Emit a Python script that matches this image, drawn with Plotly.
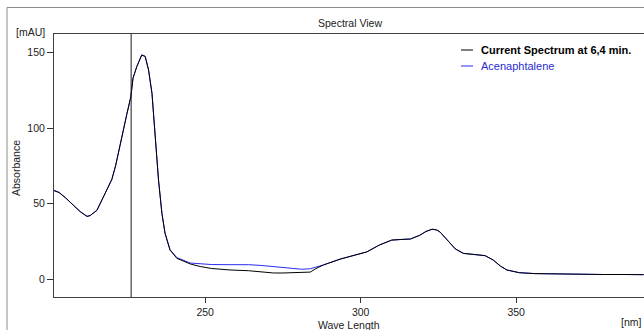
import plotly.graph_objects as go

# ---- data ----
wavelength = [201.4, 203, 205, 207, 209.8, 212, 213, 215.2, 217.8, 220, 221.2, 222.7,
              223.7, 224.8, 226.1, 226.8, 228, 229.6, 230.7, 231.8, 232.9, 233.9, 235,
              236.1, 237.1, 238.7, 240.9, 245.2, 248.4, 252, 258, 264, 268, 272, 275,
              281, 283.8, 285.5, 288, 293.4, 298, 302, 306, 310, 313, 316, 319, 321,
              323, 324.5, 325.6, 327.8, 330.4, 333, 335, 338.4, 340, 342.6, 345, 347,
              351, 356, 361, 366, 372, 378, 385, 391]

current_spectrum = [58.5, 57.3, 54, 50, 44.6, 41.5, 42, 45.5, 56.5, 66, 75, 90,
                    100, 109, 120.7, 133, 140.6, 148.3, 147.5, 138.5, 123, 96.5, 65.6,
                    43.5, 30.3, 19.2, 13.7, 10.0, 8.3, 7.0, 6.0, 5.5, 4.6, 4.0, 4.0,
                    4.2, 4.6, 6.8, 9.3, 13.2, 15.5, 18, 22.5, 25.8, 26.2, 26.5, 29, 31.5,
                    33, 32.5, 31, 25.8, 20, 17, 16.6, 15.9, 15.5, 12.6, 8.5, 6,
                    4.2, 3.6, 3.4, 3.3, 3.1, 3.0, 3.0, 2.9]

acenaphtalene = [58.8, 57.5, 54, 50, 44.8, 41.5, 42, 45.5, 56.5, 66, 75, 90,
                 100, 109, 120.7, 133, 140.6, 148.5, 147.5, 138.5, 123, 96.5, 65.6,
                 43.5, 30.5, 19.5, 14.2, 10.6, 9.9, 9.6, 9.5, 9.5, 9.0, 8.2, 7.6,
                 6.5, 6.8, 7.8, 9.3, 13.2, 15.5, 18, 22.5, 25.8, 26.2, 26.5, 29, 31.5,
                 33, 32.5, 31, 25.8, 20, 17, 16.6, 15.9, 15.5, 12.6, 8.5, 6,
                 4.2, 3.6, 3.4, 3.3, 3.1, 3.0, 3.0, 2.9]

series_names = ["Current Spectrum at 6,4 min.", "Acenaphtalene"]
series_colors = ["#000000", "#2a2af0"]
cursor_wl = 226.2

x_ticks = [250, 300, 350]
y_ticks = [0, 50, 100, 150]
x_range = [201.4, 391.1]
y_range = [-11.9, 162.3]

FONT = "Liberation Sans"

fig = go.Figure()
fig.add_trace(go.Scatter(x=wavelength, y=acenaphtalene, mode="lines",
                         name=series_names[1],
                         line=dict(color=series_colors[1], width=1)))
fig.add_trace(go.Scatter(x=wavelength, y=current_spectrum, mode="lines",
                         name=series_names[0],
                         line=dict(color=series_colors[0], width=1)))

L, R, T, B = 54, 0, 34, 33
W, H = 644, 330
pw, ph = W - L - R, H - T - B


def px(xp):
    return (xp - L) / pw


def py(yp):
    return (H - B - yp) / ph


shapes = [
    # outer panel frame
    dict(type="rect", xref="paper", yref="paper", x0=px(7), x1=px(660),
         y0=py(345), y1=py(7.5), line=dict(color="#8c8c8c", width=1), layer="below"),
    # cursor line
    dict(type="line", xref="x", yref="paper", x0=cursor_wl, x1=cursor_wl,
         y0=0, y1=1, line=dict(color="#1a1a1a", width=1)),
]
# legend samples
for i, c in enumerate(series_colors):
    yy = py(50 + 16 * i)
    shapes.append(dict(type="line", xref="paper", yref="paper", x0=px(461), x1=px(473),
                       y0=yy, y1=yy, line=dict(color=c, width=1)))


def ann(text, xp, yp, xanchor="center", color="#222", angle=0, size=10.5):
    return dict(text=text, xref="paper", yref="paper", x=px(xp), y=py(yp),
                xanchor=xanchor, yanchor="middle", showarrow=False, textangle=angle,
                font=dict(size=size, color=color))


annotations = [
    ann("Spectral View", 350, 23),
    ann("[mAU]", 47, 32, xanchor="right"),
    ann("[nm]", 644, 322, xanchor="right"),
    ann("Absorbance", 16, 168, angle=-90),
    ann("Wave Length", 349, 325),
    ann("<b>" + series_names[0] + "</b>", 479, 50, xanchor="left", color="#000", size=11),
    ann(series_names[1], 479, 66, xanchor="left", color="#2a2ad0", size=11),
]

fig.update_layout(
    width=W, height=H,
    margin=dict(l=L, r=R, t=T, b=B, pad=0),
    paper_bgcolor="white", plot_bgcolor="white",
    showlegend=False,
    font=dict(family=FONT, size=10.5, color="#222"),
    shapes=shapes, annotations=annotations,
    xaxis=dict(range=x_range, tickvals=x_ticks, ticks="outside", ticklen=5,
               tickcolor="#333", showline=True, linecolor="#404040", linewidth=1,
               mirror=True, showgrid=False, zeroline=False,
               tickfont=dict(family=FONT, size=10.5, color="#222")),
    yaxis=dict(range=y_range, tickvals=y_ticks, ticks="outside", ticklen=6,
               tickcolor="#333", showline=True, linecolor="#404040", linewidth=1,
               mirror=True, showgrid=False, zeroline=False,
               tickfont=dict(family=FONT, size=10.5, color="#222")),
)

fig.write_html("out.html", config={"displayModeBar": False},
               post_script="document.body.style.margin='0';document.body.style.overflow='hidden';")
